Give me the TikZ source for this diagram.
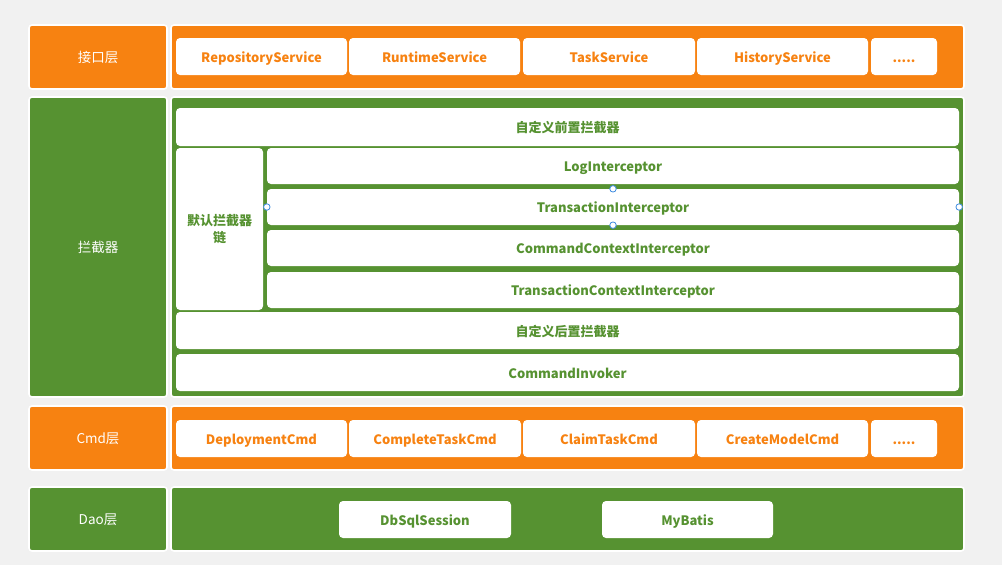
\documentclass[tikz,border=0pt]{standalone}
\usepackage{fontspec}
\setmainfont{Noto Sans CJK SC}
\definecolor{bg}{HTML}{F1F1F1}
\definecolor{org}{HTML}{F78211}
\definecolor{grn}{HTML}{569231}
\definecolor{hdl}{HTML}{3D8BE0}
\tikzset{
  layer/.style={rounded corners=3pt, draw=white, line width=1.6pt, inner sep=0pt, text=white, text height=11.5pt, text depth=0pt, font=\fontsize{13.5}{16}\selectfont},
  olayer/.style={layer, fill=org},
  glayer/.style={layer, fill=grn},
  itembase/.style={rounded corners=4pt, fill=white, inner sep=0pt, font=\fontsize{13}{17}\selectfont\bfseries},
  item/.style={itembase, text height=11.5pt, text depth=0pt},
  oitem/.style={item, text=org},
  gitem/.style={item, text=grn},
  gmulti/.style={itembase, text=grn, align=center},
  handle/.style={circle, draw=hdl, fill=white, line width=0.8pt, minimum size=6.5pt, inner sep=0pt}
}
\newcommand{\bx}[7]{\node[#6, minimum width={#4-#2}, minimum height={#5-#3}] (#1) at ({(#2+#4)/2},{(#3+#5)/2}) {#7};}
\begin{document}
\begin{tikzpicture}[x=1pt,y=-1pt]
\fill[bg] (0,0) rectangle (1002,565);
\useasboundingbox (0,0) rectangle (1002,565);
% row 1
\bx{l1}{29}{25}{167}{89}{olayer}{接口层}
\bx{r1}{171}{25}{964}{89}{olayer}{}
\bx{s1}{176}{38}{347}{75}{oitem}{RepositoryService}
\bx{s2}{349}{38}{520}{75}{oitem}{RuntimeService}
\bx{s3}{523}{38}{695}{75}{oitem}{TaskService}
\bx{s4}{697}{38}{868}{75}{oitem}{HistoryService}
\bx{s5}{871}{38}{937}{75}{oitem}{.....}
% row 2
\bx{l2}{29}{97}{167}{397}{glayer}{拦截器}
\bx{r2}{171}{97}{964}{397}{glayer}{}
\bx{pre}{176}{108}{959}{146}{gitem}{自定义前置拦截器}
\bx{chain}{176}{148}{263}{310}{gmulti}{默认拦截器\\链}
\bx{i1}{267}{148}{959}{184}{gitem}{LogInterceptor}
\bx{i2}{267}{189}{959}{225}{gitem}{TransactionInterceptor}
\bx{i3}{267}{230}{959}{266}{gitem}{CommandContextInterceptor}
\bx{i4}{267}{272}{959}{308}{gitem}{TransactionContextInterceptor}
\bx{post}{176}{312}{959}{349}{gitem}{自定义后置拦截器}
\bx{inv}{176}{354}{959}{391}{gitem}{CommandInvoker}
\node[handle] (h1) at (i2.north) {};
\node[handle] (h2) at (i2.south) {};
\node[handle] (h3) at (i2.west) {};
\node[handle] (h4) at (i2.east) {};
% row 3
\bx{l3}{29}{406}{167}{470}{olayer}{Cmd层}
\bx{r3}{171}{406}{964}{470}{olayer}{}
\bx{c1}{176}{420}{347}{457}{oitem}{DeploymentCmd}
\bx{c2}{349}{420}{521}{457}{oitem}{CompleteTaskCmd}
\bx{c3}{523}{420}{695}{457}{oitem}{ClaimTaskCmd}
\bx{c4}{697}{420}{868}{457}{oitem}{CreateModelCmd}
\bx{c5}{871}{420}{937}{457}{oitem}{.....}
% row 4
\bx{l4}{29}{487}{167}{551}{glayer}{Dao层}
\bx{r4}{171}{487}{964}{551}{glayer}{}
\bx{d1}{339}{501}{511}{538}{gitem}{DbSqlSession}
\bx{d2}{602}{501}{773}{538}{gitem}{MyBatis}
\end{tikzpicture}
\end{document}
